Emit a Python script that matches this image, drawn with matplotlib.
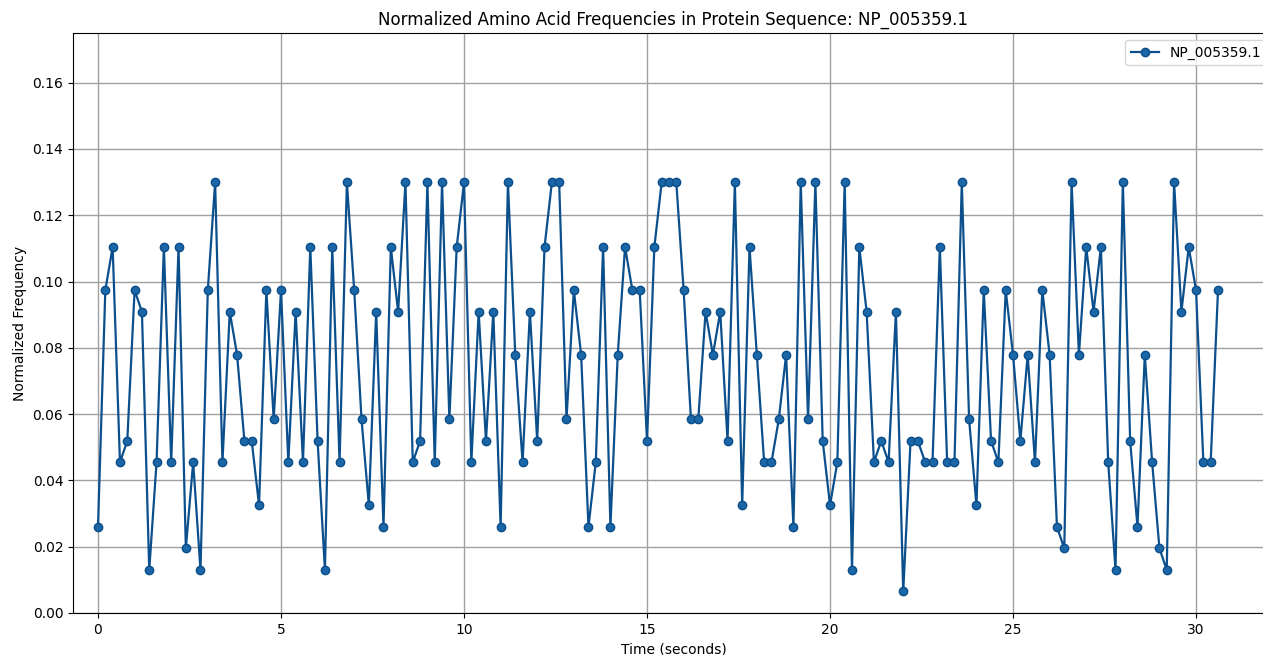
import matplotlib
matplotlib.use("Agg")
import matplotlib.pyplot as plt
import numpy as np

series_name = "NP_005359.1"
time_step = 0.2
frequencies = [
    0.0260, 0.0974, 0.1104, 0.0455, 0.0519, 0.0974, 0.0909, 0.0130, 0.0455, 0.1104,
    0.0455, 0.1104, 0.0195, 0.0455, 0.0130, 0.0974, 0.1299, 0.0455, 0.0909, 0.0779,
    0.0519, 0.0519, 0.0325, 0.0974, 0.0584, 0.0974, 0.0455, 0.0909, 0.0455, 0.1104,
    0.0519, 0.0130, 0.1104, 0.0455, 0.1299, 0.0974, 0.0584, 0.0325, 0.0909, 0.0260,
    0.1104, 0.0909, 0.1299, 0.0455, 0.0519, 0.1299, 0.0455, 0.1299, 0.0584, 0.1104,
    0.1299, 0.0455, 0.0909, 0.0519, 0.0909, 0.0260, 0.1299, 0.0779, 0.0455, 0.0909,
    0.0519, 0.1104, 0.1299, 0.1299, 0.0584, 0.0974, 0.0779, 0.0260, 0.0455, 0.1104,
    0.0260, 0.0779, 0.1104, 0.0974, 0.0974, 0.0519, 0.1104, 0.1299, 0.1299, 0.1299,
    0.0974, 0.0584, 0.0584, 0.0909, 0.0779, 0.0909, 0.0519, 0.1299, 0.0325, 0.1104,
    0.0779, 0.0455, 0.0455, 0.0584, 0.0779, 0.0260, 0.1299, 0.0584, 0.1299, 0.0519,
    0.0325, 0.0455, 0.1299, 0.0130, 0.1104, 0.0909, 0.0455, 0.0519, 0.0455, 0.0909,
    0.0065, 0.0519, 0.0519, 0.0455, 0.0455, 0.1104, 0.0455, 0.0455, 0.1299, 0.0584,
    0.0325, 0.0974, 0.0519, 0.0455, 0.0974, 0.0779, 0.0519, 0.0779, 0.0455, 0.0974,
    0.0779, 0.0260, 0.0195, 0.1299, 0.0779, 0.1104, 0.0909, 0.1104, 0.0455, 0.0130,
    0.1299, 0.0519, 0.0260, 0.0779, 0.0455, 0.0195, 0.0130, 0.1299, 0.0909, 0.1104,
    0.0974, 0.0455, 0.0455, 0.0974,
]
times = [round(i * time_step, 1) for i in range(len(frequencies))]

W, H = 1263, 655
fig = plt.figure(figsize=(W / 100, H / 100), dpi=100)
left_px, right_px, top_px, bottom_px = 73, 1274, 33, 613
ax = fig.add_axes([left_px / W, (H - bottom_px) / H,
                   (right_px - left_px) / W, (bottom_px - top_px) / H])

ax.plot(times, frequencies, marker="o", color="#0b4f8c", linewidth=1.6,
        markersize=6, markerfacecolor="#1a66a6", markeredgecolor="#0c4e8a",
        label=series_name)

ax.set_xlim(-0.683, 32.13)
ax.set_ylim(0, 0.175)
ax.set_xticks([0, 5, 10, 15, 20, 25, 30])
ax.set_yticks(np.arange(0, 0.161, 0.02))
ax.yaxis.set_major_formatter(matplotlib.ticker.FormatStrFormatter("%.2f"))
ax.grid(True, color="#a0a0a0", linewidth=1.0)
ax.set_axisbelow(True)
ax.set_title("Normalized Amino Acid Frequencies in Protein Sequence: NP_005359.1", fontsize=12)
ax.set_xlabel("Time (seconds)")
ax.set_ylabel("Normalized Frequency")
ax.legend(loc="upper right")

fig.savefig("out.png", dpi=100)
